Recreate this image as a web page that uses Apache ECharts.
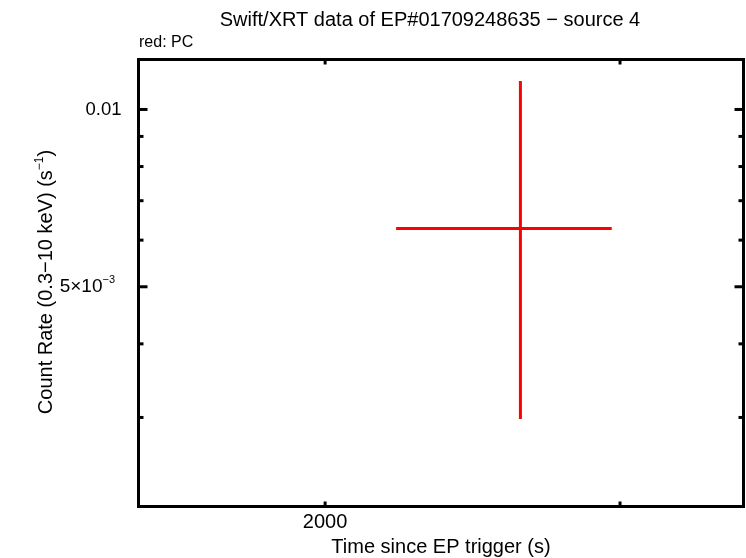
<!DOCTYPE html>
<html>
<head>
<meta charset="utf-8">
<script src="https://cdn.jsdelivr.net/npm/echarts@6/dist/echarts.min.js"></script>
<style>html,body{margin:0;padding:0;background:#fff}#c{width:746px;height:558px}</style>
</head>
<body>
<div id="c"></div>
<script>
// ---- data ----
const titleText = 'Swift/XRT data of EP#01709248635 \u2212 source 4';
const subText = 'red: PC';
const xName = 'Time since EP trigger (s)';
const xRange = [1547.4, 3555];
const yRange = [0.002118, 0.012157];
// point: [time, rate, timeLow, timeHigh, rateLow, rateHigh]
const pcPoints = [[2616, 0.006281, 2205, 2966, 0.002981, 0.011178]];
// y ticks: [value, major?, label, exponent]
const yTicks = [[0.01, 1, '0.01', ''], [0.009, 0, '', ''], [0.008, 0, '', ''], [0.007, 0, '', ''],
                [0.006, 0, '', ''], [0.005, 1, '5\u00d710', '\u22123'], [0.004, 0, '', ''], [0.003, 0, '', '']];
// x ticks: [value, major?, label]
const xTicks = [[2000, 1, '2000'], [3000, 1, '']];

const FONT = '"Liberation Sans", Arial, Helvetica, sans-serif';
const chart = echarts.init(document.getElementById('c'));

chart.setOption({
  animation: false,
  backgroundColor: '#fff',
  grid: {left: 138.5, right: 2.5, top: 59.5, bottom: 51.5, show: true, containLabel: false,
         outerBoundsMode: 'none',
         borderColor: '#000', borderWidth: 3, backgroundColor: 'transparent'},
  xAxis: {type: 'log', min: xRange[0], max: xRange[1], logBase: 10,
          axisLine: {show: false}, axisTick: {show: false}, axisLabel: {show: false}, splitLine: {show: false}},
  yAxis: {type: 'log', min: yRange[0], max: yRange[1], logBase: 10,
          axisLine: {show: false}, axisTick: {show: false}, axisLabel: {show: false}, splitLine: {show: false}},
  graphic: [
    {type: 'text', x: 430, y: 20,
     style: {text: titleText, align: 'center', verticalAlign: 'middle', font: '20px ' + FONT, fill: '#000'}},
    {type: 'text', x: 139, y: 43,
     style: {text: subText, align: 'left', verticalAlign: 'middle', font: '16px ' + FONT, fill: '#000'}},
    {type: 'text', x: 441, y: 547,
     style: {text: xName, align: 'center', verticalAlign: 'middle', font: '20px ' + FONT, fill: '#000'}},
    {type: 'text', x: 46, y: 282, rotation: Math.PI / 2,
     style: {
       text: '{a|Count Rate (0.3\u221210 keV) (s}{s|\u22121}{a|)}',
       align: 'center', verticalAlign: 'middle',
       rich: {
         a: {fontFamily: FONT, fontSize: 20, fill: '#000', lineHeight: 24},
         s: {fontFamily: FONT, fontSize: 12, fill: '#000', verticalAlign: 'top', lineHeight: 24}
       }
     }}
  ],
  series: [
    {
      type: 'custom', silent: true, clip: false, z: 5,
      data: yTicks,
      renderItem: function (params, api) {
        const v = api.value(0), major = api.value(1);
        const raw = yTicks[params.dataIndex];
        const pL = api.coord([xRange[0], v]);
        const pR = api.coord([xRange[1], v]);
        const len = major ? 9 : 5;
        const children = [
          {type: 'line', shape: {x1: pL[0], y1: pL[1], x2: pL[0] + len, y2: pL[1]}, style: {stroke: '#000', lineWidth: 3}},
          {type: 'line', shape: {x1: pR[0], y1: pR[1], x2: pR[0] - len, y2: pR[1]}, style: {stroke: '#000', lineWidth: 3}}
        ];
        if (raw[2]) {
          if (raw[3]) {
            children.push({type: 'text', style: {text: raw[3], x: pL[0] - 36, y: pL[1] - 7, align: 'left', verticalAlign: 'middle', font: '11px ' + FONT, fill: '#000'}});
            children.push({type: 'text', style: {text: raw[2], x: pL[0] - 36, y: pL[1], align: 'right', verticalAlign: 'middle', font: '19px ' + FONT, fill: '#000'}});
          } else {
            children.push({type: 'text', style: {text: raw[2], x: pL[0] - 17, y: pL[1], align: 'right', verticalAlign: 'middle', font: '18.5px ' + FONT, fill: '#000'}});
          }
        }
        return {type: 'group', children: children};
      }
    },
    {
      type: 'custom', silent: true, clip: false, z: 5,
      data: xTicks,
      renderItem: function (params, api) {
        const v = api.value(0);
        const raw = xTicks[params.dataIndex];
        const pB = api.coord([v, yRange[0]]);
        const pT = api.coord([v, yRange[1]]);
        const len = 5;
        const children = [
          {type: 'line', shape: {x1: pB[0], y1: pB[1], x2: pB[0], y2: pB[1] - len}, style: {stroke: '#000', lineWidth: 3}},
          {type: 'line', shape: {x1: pT[0], y1: pT[1], x2: pT[0], y2: pT[1] + len}, style: {stroke: '#000', lineWidth: 3}}
        ];
        if (raw[2]) {
          children.push({type: 'text', style: {text: raw[2], x: pB[0], y: pB[1] + 16, align: 'center', verticalAlign: 'middle', font: '20px ' + FONT, fill: '#000'}});
        }
        return {type: 'group', children: children};
      }
    },
    {
      type: 'custom', name: 'PC', silent: true, z: 4,
      data: pcPoints,
      renderItem: function (params, api) {
        const c = api.coord([api.value(0), api.value(1)]);
        const xl = api.coord([api.value(2), api.value(1)]);
        const xh = api.coord([api.value(3), api.value(1)]);
        const yl = api.coord([api.value(0), api.value(4)]);
        const yh = api.coord([api.value(0), api.value(5)]);
        return {type: 'group', children: [
          {type: 'line', shape: {x1: xl[0], y1: c[1], x2: xh[0], y2: c[1]}, style: {stroke: '#ff0000', lineWidth: 3}},
          {type: 'line', shape: {x1: c[0], y1: yl[1], x2: c[0], y2: yh[1]}, style: {stroke: '#ff0000', lineWidth: 3}}
        ]};
      }
    }
  ]
});
</script>
</body>
</html>
